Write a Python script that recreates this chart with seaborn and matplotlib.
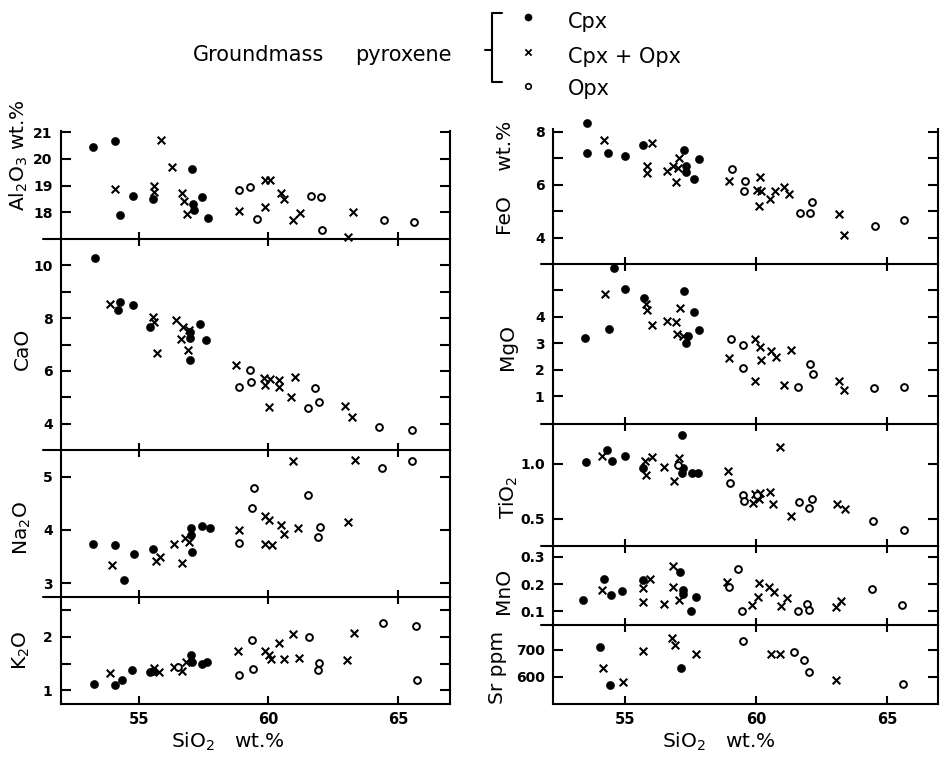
import matplotlib
matplotlib.use("Agg")
import matplotlib.pyplot as plt
from matplotlib.ticker import FormatStrFormatter
import pandas as pd
import seaborn as sns

# ---- data: (SiO2 wt.%, oxide) ----
groups = ["Cpx", "Cpx + Opx", "Opx"]

al2o3_cpx = [(53.24, 20.46), (54.10, 20.67), (54.29, 17.91), (54.78, 18.63), (55.53, 18.50),
             (57.06, 19.63), (57.09, 18.33), (57.13, 18.07), (57.45, 18.57), (57.67, 17.78)]
al2o3_both = [(54.08, 18.88), (55.85, 20.72), (55.58, 18.98), (55.58, 18.78), (56.29, 19.69),
              (56.68, 18.73), (56.73, 18.41), (56.87, 17.95), (58.85, 18.06), (59.87, 18.19),
              (59.87, 19.20), (60.06, 19.23), (60.49, 18.73), (60.58, 18.50), (60.94, 17.72),
              (61.22, 17.97), (63.05, 17.07), (63.27, 18.01)]
al2o3_opx = [(58.88, 18.83), (59.27, 18.94), (59.55, 17.75), (61.64, 18.60), (62.03, 18.57),
             (62.05, 17.32), (64.46, 17.71), (65.62, 17.63)]

cao_cpx = [(53.31, 10.28), (54.21, 8.30), (54.27, 8.62), (54.76, 8.49), (55.45, 7.67),
           (56.96, 7.48), (56.99, 7.25), (56.96, 6.40), (57.35, 7.77), (57.60, 7.17)]
cao_both = [(53.88, 8.52), (55.53, 8.06), (55.58, 7.87), (55.72, 6.67), (56.42, 7.93),
            (56.71, 7.67), (56.64, 7.21), (56.90, 6.80), (56.94, 7.55), (58.76, 6.23),
            (59.82, 5.73), (59.85, 5.46), (60.06, 5.71), (60.01, 4.62), (60.40, 5.67),
            (60.40, 5.39), (60.87, 5.02), (61.04, 5.77), (62.96, 4.67), (63.24, 4.24)]
cao_opx = [(58.88, 5.37), (59.29, 6.04), (59.31, 5.57), (61.51, 4.61), (61.79, 5.36),
           (61.94, 4.81), (64.27, 3.89), (65.55, 3.74)]

na2o_cpx = [(53.24, 3.74), (54.10, 3.72), (54.44, 3.05), (54.82, 3.54), (55.55, 3.65),
            (57.00, 4.03), (57.00, 3.91), (57.06, 3.58), (57.44, 4.08), (57.73, 4.04)]
na2o_both = [(53.97, 3.34), (55.65, 3.42), (55.83, 3.49), (56.35, 3.73), (56.68, 3.38),
             (56.77, 3.84), (56.94, 3.78), (58.86, 3.99), (59.87, 3.73), (59.88, 4.27),
             (60.01, 4.19), (60.14, 3.71), (60.49, 4.09), (60.59, 3.92), (60.94, 5.30),
             (61.13, 4.03), (63.05, 4.15), (63.35, 5.32)]
na2o_opx = [(58.88, 3.75), (59.36, 4.42), (59.44, 4.78), (61.51, 4.65), (61.90, 3.87),
            (62.00, 4.05), (64.36, 5.16), (65.55, 5.29)]

k2o_cpx = [(53.28, 1.11), (54.08, 1.09), (54.37, 1.20), (54.72, 1.38), (55.42, 1.34),
           (55.55, 1.36), (57.03, 1.66), (57.06, 1.53), (57.45, 1.50), (57.64, 1.53)]
k2o_both = [(53.88, 1.33), (55.58, 1.41), (55.78, 1.34), (56.35, 1.44), (56.68, 1.36),
            (56.83, 1.53), (58.82, 1.74), (59.87, 1.74), (60.01, 1.66), (60.10, 1.58),
            (60.42, 1.89), (60.58, 1.59), (60.94, 2.06), (61.17, 1.61), (63.01, 1.56),
            (63.31, 2.08)]
k2o_opx = [(56.51, 1.43), (58.86, 1.28), (59.36, 1.94), (59.40, 1.39), (61.55, 2.00),
           (61.90, 1.38), (61.96, 1.51), (64.40, 2.27), (65.68, 2.21), (65.74, 1.19)]

feo_cpx = [(53.54, 8.34), (53.56, 7.18), (54.36, 7.18), (55.01, 7.08), (55.70, 7.50),
           (57.24, 7.31), (57.33, 6.70), (57.33, 6.49), (57.64, 6.23), (57.83, 6.98)]
feo_both = [(54.21, 7.69), (56.04, 7.56), (55.83, 6.72), (55.83, 6.43), (56.59, 6.52),
            (56.84, 6.70), (56.94, 6.11), (57.07, 6.99), (57.03, 6.62), (58.98, 6.15),
            (60.02, 5.80), (60.17, 6.28), (60.10, 5.21), (60.21, 5.74), (60.53, 5.45),
            (60.72, 5.76), (61.06, 5.92), (61.26, 5.65), (63.17, 4.89), (63.35, 4.08)]
feo_opx = [(59.10, 6.58), (59.59, 6.14), (59.54, 5.74), (61.67, 4.94), (62.05, 4.94),
           (62.15, 5.36), (64.53, 4.42), (65.67, 4.67)]

mgo_cpx = [(53.48, 3.21), (54.40, 3.56), (54.58, 5.83), (55.00, 5.07), (55.74, 4.73),
           (57.24, 4.98), (57.63, 4.19), (57.39, 3.28), (57.33, 3.03), (57.81, 3.50)]
mgo_both = [(54.24, 4.88), (55.80, 4.50), (55.85, 4.25), (56.04, 3.68), (56.59, 3.85),
            (56.93, 3.81), (56.97, 3.37), (57.10, 4.35), (57.22, 3.27), (58.98, 2.46),
            (59.97, 3.18), (60.15, 2.86), (60.21, 2.38), (59.96, 1.56), (60.59, 2.71),
            (60.76, 2.49), (61.32, 2.74), (61.07, 1.41), (63.16, 1.58), (63.36, 1.22)]
mgo_opx = [(59.04, 3.18), (59.51, 2.95), (59.49, 2.07), (61.61, 1.35), (62.05, 2.21),
           (62.18, 1.83), (64.50, 1.31), (65.67, 1.35)]

tio2_cpx = [(53.50, 1.01), (54.30, 1.12), (54.49, 1.02), (55.00, 1.07), (55.70, 0.96),
            (57.19, 1.26), (57.22, 0.96), (57.19, 0.91), (57.54, 0.91), (57.80, 0.91)]
tio2_both = [(54.11, 1.07), (55.76, 1.02), (55.80, 0.90), (56.02, 1.06), (56.50, 0.97),
             (56.88, 0.84), (57.06, 1.05), (58.94, 0.93), (59.87, 0.64), (59.96, 0.72),
             (60.15, 0.73), (60.12, 0.68), (60.53, 0.74), (60.65, 0.63), (60.93, 1.15),
             (61.35, 0.52), (63.09, 0.63), (63.39, 0.59)]
tio2_opx = [(57.03, 0.99), (59.00, 0.82), (59.49, 0.71), (59.54, 0.66), (60.02, 0.71),
            (61.65, 0.65), (62.03, 0.60), (62.12, 0.68), (64.47, 0.48), (65.64, 0.40)]

mno_cpx = [(53.39, 0.141), (54.21, 0.219), (54.45, 0.160), (54.90, 0.176), (55.67, 0.215),
           (57.10, 0.243), (57.20, 0.180), (57.20, 0.162), (57.50, 0.100), (57.71, 0.153)]
mno_both = [(54.11, 0.178), (55.70, 0.184), (55.95, 0.218), (55.70, 0.135), (56.50, 0.126),
            (56.82, 0.265), (56.84, 0.191), (57.07, 0.140), (58.88, 0.209), (59.83, 0.122),
            (60.08, 0.151), (60.12, 0.203), (60.50, 0.188), (60.68, 0.172), (60.97, 0.118),
            (61.19, 0.150), (63.04, 0.116), (63.26, 0.137)]
mno_opx = [(58.98, 0.188), (59.32, 0.255), (59.45, 0.100), (61.61, 0.101), (61.93, 0.126),
           (62.03, 0.106), (64.43, 0.183), (65.58, 0.122)]

sr_cpx = [(54.05, 710), (54.43, 569), (57.12, 631)]
sr_both = [(54.17, 631), (54.94, 581), (55.67, 694), (56.78, 741), (56.89, 716),
           (57.71, 684), (60.59, 684), (60.91, 684), (63.04, 588)]
sr_opx = [(59.49, 731), (61.44, 690), (61.82, 662), (62.03, 616), (65.61, 575)]


def to_frame(cpx, both, opx):
    rows = []
    for name, pts in zip(groups, [cpx, both, opx]):
        for si, v in pts:
            rows.append((name, si, v))
    return pd.DataFrame(rows, columns=["group", "SiO2", "value"])


sns.set_style("ticks")
plt.rcParams["font.family"] = ["DejaVu Sans"]
plt.rcParams["mathtext.default"] = "regular"
for k in ["text.color", "axes.labelcolor", "axes.edgecolor", "xtick.color", "ytick.color"]:
    plt.rcParams[k] = "black"

W, H = 940, 758
fig = plt.figure(figsize=(9.4, 7.58), dpi=100)


def px_axes(left, top, right, bottom):
    return fig.add_axes([left / W, 1 - bottom / H, (right - left) / W, (bottom - top) / H])


style = {
    "Cpx": dict(marker="o", s=34, color="black", edgecolor="black", linewidth=0.4),
    "Cpx + Opx": dict(marker="x", s=30, color="black", linewidth=1.5),
    "Opx": dict(marker="o", s=24, color="white", edgecolor="black", linewidth=1.4),
}

LW = 1.5
# column: (left px, right px, xlim, separator overhang)
left = (61, 450, (52.0, 67.0), 0.046)
right = (553, 938, (52.25, 66.95), 0.03)
panels = [
    (to_frame(al2o3_cpx, al2o3_both, al2o3_opx), "Al$_2$O$_3$ wt.%", left, 131, 239,
     (17, 21.05), [18, 19, 20, 21], [], "%d", (-0.08, 0.78), False),
    (to_frame(cao_cpx, cao_both, cao_opx), "CaO", left, 239, 450,
     (3, 11), [4, 6, 8, 10], [5, 7, 9], "%d", (-0.075, 0.48), False),
    (to_frame(na2o_cpx, na2o_both, na2o_opx), "Na$_2$O", left, 450, 597,
     (2.74, 5.5), [3, 4, 5], [], "%d", (-0.072, 0.47), False),
    (to_frame(k2o_cpx, k2o_both, k2o_opx), "K$_2$O", left, 597, 704,
     (0.74, 2.75), [1, 2], [1.5, 2.5], "%d", (-0.075, 0.5), True),
    (to_frame(feo_cpx, feo_both, feo_opx), "FeO    wt.%", right, 129, 264,
     (3, 8.1), [4, 6, 8], [5, 7], "%d", (-0.098, 0.64), False),
    (to_frame(mgo_cpx, mgo_both, mgo_opx), "MgO", right, 264, 424,
     (-0.05, 6), [1, 2, 3, 4], [5], "%d", (-0.094, 0.48), False),
    (to_frame(tio2_cpx, tio2_both, tio2_opx), "TiO$_2$", right, 424, 546,
     (0.25, 1.36), [0.5, 1.0], [], "%.1f", (-0.086, 0.4), False),
    (to_frame(mno_cpx, mno_both, mno_opx), "MnO", right, 546, 625,
     (0.05, 0.34), [0.1, 0.2, 0.3], [], "%.1f", (-0.104, 0.43), False),
    (to_frame(sr_cpx, sr_both, sr_opx), "Sr ppm", right, 625, 704,
     (500, 790), [600, 700], [], "%d", (-0.12, 0.46), True),
]

for df, ylab, col, top, bot, ylim, major, minor, fmt, lab_xy, is_bottom in panels:
    x0, x1, xlim, ext = col
    ax = px_axes(x0, top, x1, bot)
    for g in groups:
        sub = df[df.group == g]
        sns.scatterplot(data=sub, x="SiO2", y="value", ax=ax, clip_on=False,
                        zorder=3, legend=False, **style[g])
    ax.set_xlim(*xlim)
    ax.set_ylim(*ylim)
    ax.set_xticks([55, 60, 65])
    ax.set_yticks(major)
    ax.set_yticks(minor, minor=True)
    ax.yaxis.set_major_formatter(FormatStrFormatter(fmt))
    ax.spines["top"].set_visible(False)
    for s in ["left", "right", "bottom"]:
        ax.spines[s].set_linewidth(LW)
    ax.tick_params(axis="y", which="both", direction="in", left=True, right=True,
                   length=7, width=LW, labelsize=10, pad=6)
    for t in ax.get_yticklabels():
        t.set_fontweight("bold")
    if is_bottom:
        ax.tick_params(axis="x", direction="in", length=6, width=LW,
                       labelsize=10.5, pad=6)
        for t in ax.get_xticklabels():
            t.set_fontweight("bold")
        ax.set_xlabel("SiO$_2$   wt.%", fontsize=14.5)
        ax.xaxis.set_label_coords(0.43, -(27 / (bot - top)))
    else:
        ax.tick_params(axis="x", direction="inout", length=10, width=LW,
                       labelbottom=False)
        ax.set_xlabel("")
        ax.axhline(ylim[0], xmin=-ext, xmax=0, color="black", lw=LW, clip_on=False)
    ax.set_ylabel(ylab, fontsize=14.5)
    ax.yaxis.set_label_coords(*lab_xy)
    ax.patch.set_alpha(0)

# ---- key at the top ----
lg = fig.add_axes([0, 0, 1, 1], zorder=-1)
lg.set_xlim(0, W)
lg.set_ylim(H, 0)
lg.axis("off")
lg.text(193, 61, "Groundmass", fontsize=15, va="baseline")
lg.text(355, 61, "pyroxene", fontsize=15, va="baseline")
lg.plot([502, 492, 492, 502], [13, 13, 82, 82], color="black", lw=LW)
lg.plot([485, 492], [50, 50], color="black", lw=LW)
key_style = {
    "Cpx": dict(marker="o", s=26, color="black", edgecolor="black", linewidth=0.4),
    "Cpx + Opx": dict(marker="x", s=20, color="black", linewidth=1.3),
    "Opx": dict(marker="o", s=16, color="white", edgecolor="black", linewidth=1.2),
}
for g, ym, yb in zip(groups, [17, 52, 86], [28, 63, 95]):
    lg.scatter([528], [ym], **key_style[g])
    lg.text(568, yb, g, fontsize=15, va="baseline")

fig.savefig("out.png", dpi=100)
